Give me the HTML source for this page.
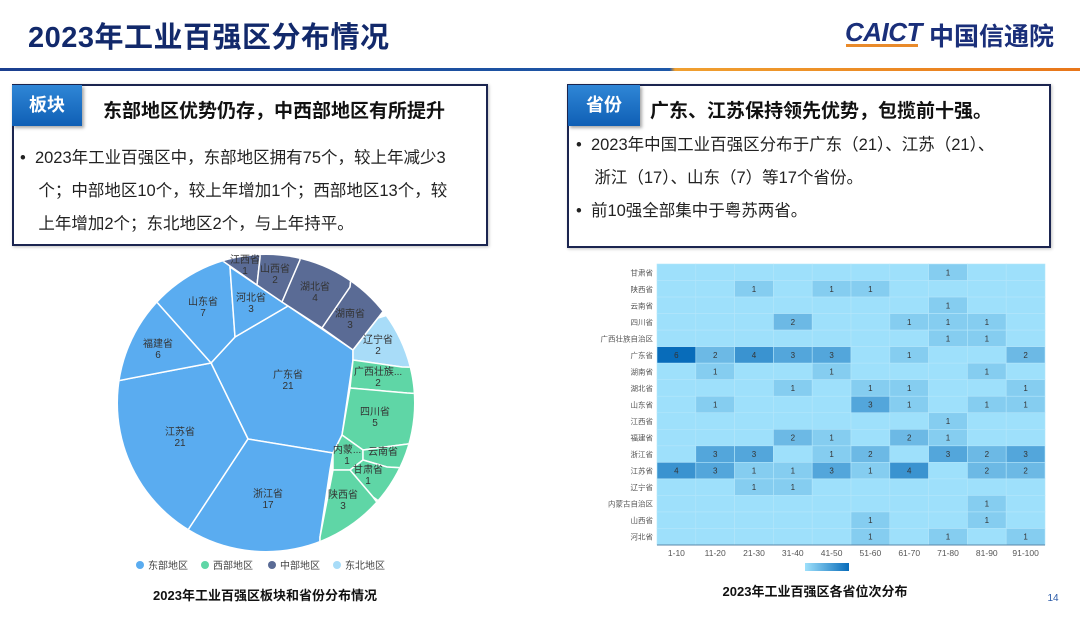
<!DOCTYPE html>
<html><head><meta charset="utf-8">
<style>
body{margin:0;width:1080px;height:622px;background:#fff;position:relative;overflow:hidden;font-family:"Liberation Sans","Noto Sans CJK SC",sans-serif;}
.abs{position:absolute;}
.title{left:28px;top:14px;font-size:29px;font-weight:bold;color:#12296b;letter-spacing:0.5px;}
.box{border:2px solid #1b2550;box-sizing:border-box;box-shadow:1px 1px 3px rgba(0,0,0,.25);}
.tag{background:linear-gradient(#2f86d6,#0f5fb5);color:#fff;font-weight:bold;font-size:18px;text-align:center;line-height:41px;box-shadow:2px 2px 3px rgba(0,0,0,.35);}
.head{font-weight:bold;font-size:19px;color:#111;}
.bul{font-size:16.5px;color:#222;line-height:33px;}
</style></head><body>
<div class="abs title">2023年工业百强区分布情况</div>
<div class="abs" style="left:845px;top:17px;font-size:26px;font-weight:bold;color:#1a2f7a;font-style:italic;letter-spacing:-0.5px">CAICT</div>
<div class="abs" style="left:846px;top:44px;width:72px;height:3px;background:#e98a2a"></div>
<div class="abs" style="left:929px;top:17px;font-size:25px;font-weight:bold;color:#1a2f7a">中国信通院</div>
<div class="abs" style="left:0;top:68px;width:1080px;height:3px;background:linear-gradient(90deg,#1b3f8f 0,#1e58a8 62%,#f0a030 62.5%,#e8761a 100%)"></div>

<div class="abs box" style="left:12px;top:84px;width:476px;height:162px"></div>
<div class="abs tag" style="left:12px;top:85px;width:70px;height:41px">板块</div>
<div class="abs head" style="left:103px;top:96px">东部地区优势仍存，中西部地区有所提升</div>
<div class="abs bul" style="left:20px;top:142px;width:460px">•&nbsp; 2023年工业百强区中，东部地区拥有75个，较上年减少3<br>&nbsp;&nbsp;&nbsp;&nbsp;个；中部地区10个，较上年增加1个；西部地区13个，较<br>&nbsp;&nbsp;&nbsp;&nbsp;上年增加2个；东北地区2个，与上年持平。</div>

<div class="abs box" style="left:567px;top:84px;width:484px;height:164px"></div>
<div class="abs tag" style="left:568px;top:85px;width:72px;height:41px">省份</div>
<div class="abs head" style="left:650px;top:96px">广东、江苏保持领先优势，包揽前十强。</div>
<div class="abs bul" style="left:576px;top:129px;width:470px">•&nbsp; 2023年中国工业百强区分布于广东（21）、江苏（21）、<br>&nbsp;&nbsp;&nbsp;&nbsp;浙江（17）、山东（7）等17个省份。<br>•&nbsp; 前10强全部集中于粤苏两省。</div>

<svg class="abs" style="left:0;top:0" width="1080" height="622">
<defs><clipPath id="cc"><circle cx="266" cy="403" r="148"/></clipPath></defs>
<g id="pie" clip-path="url(#cc)"></g>
<g id="pielab"></g>
<g id="pieleg"></g>
<g id="heat"></g>
<text x="265" y="600" text-anchor="middle" font-size="13" font-weight="bold" fill="#111">2023年工业百强区板块和省份分布情况</text>
<text x="815" y="596" text-anchor="middle" font-size="13" font-weight="bold" fill="#111">2023年工业百强区各省位次分布</text>
<text x="1053" y="601" text-anchor="middle" font-size="10" fill="#2a5aa8">14</text>
</svg>
<script>
// ---- Pie (voronoi treemap) data ----
const pieNames=["广东省","江苏省","浙江省","山东省","福建省","河北省","江西省","山西省","湖北省","湖南省","辽宁省","广西壮族...","四川省","内蒙...","云南省","甘肃省","陕西省"];
const pieValues=[21,21,17,7,6,3,1,2,4,3,2,2,5,1,1,1,3];
const pieRegions=[0,0,0,0,0,0,2,2,2,2,3,1,1,1,1,1,1];
const regionNames=["东部地区","西部地区","中部地区","东北地区"];
const regionColors=["#5aacf0","#5fd6a6","#5a6b95","#a8dcf8"];
// cell layout (geometry only)
const cells=[
[[211,363],[235,337],[288,306],[353,350],[353,360],[342,435],[333,453],[248,439]],
[[211,363],[248,439],[188,530],[90,560],[80,388]],
[[248,439],[333,453],[330,470],[320,537],[320,620],[150,620],[188,530]],
[[211,363],[130,272],[150,215],[228,225],[230,267],[235,337]],
[[211,363],[80,388],[80,250],[130,272]],
[[235,337],[230,267],[288,306]],
[[200,245],[210,200],[262,200],[260,258],[257,285]],
[[257,285],[260,258],[262,200],[305,200],[300,260],[282,302]],
[[282,302],[300,260],[305,200],[360,200],[350,287],[322,328]],
[[322,328],[350,287],[360,200],[430,250],[378,318],[353,350]],
[[353,350],[378,318],[440,300],[440,368],[402,367],[353,360]],
[[353,360],[402,367],[440,368],[440,395],[407,393],[350,388]],
[[350,388],[407,393],[440,395],[440,440],[400,445],[363,450],[342,435]],
[[342,435],[363,450],[363,460],[350,470],[333,470],[333,453]],
[[363,450],[400,445],[440,440],[440,470],[387,467],[363,460]],
[[363,460],[387,467],[440,470],[420,530],[373,497],[350,470]],
[[333,470],[350,470],[373,497],[420,560],[320,560],[320,537]]];
const labelPos=[[288,378],[180,435],[268,497],[203,305],[158,347],[251,301],[245,263],[275,272],[315,290],[350,317],[378,343],[378,375],[375,415],[347,453],[383,455],[368,473],[343,498]];
const NS="http://www.w3.org/2000/svg";
function mk(t,a,p){const e=document.createElementNS(NS,t);for(const k in a)e.setAttribute(k,a[k]);p.appendChild(e);return e;}
const pie=document.getElementById('pie'),pl=document.getElementById('pielab');
pieNames.forEach((n,i)=>{
 const p=mk('polygon',{points:cells[i].map(q=>q.join(',')).join(' '),fill:regionColors[pieRegions[i]],stroke:'#fff','stroke-width':1.5},pie);
 
 
 const [x,y]=labelPos[i];
 const t=mk('text',{x:x,y:y,'text-anchor':'middle','font-size':10,fill:'#333'},pl);t.textContent=n;
 
 
 if(n!=="云南省"){const v=mk('text',{x:x,y:y+11,'text-anchor':'middle','font-size':10,fill:'#333'},pl);v.textContent=pieValues[i];
 
 }
});
const lg=document.getElementById('pieleg');const lx=[140,205,272,337];
regionNames.forEach((r,i)=>{
 const c=mk('circle',{cx:lx[i],cy:565,r:4,fill:regionColors[i]},lg);
 
 
 const t=mk('text',{x:lx[i]+8,y:569,'font-size':10,fill:'#444'},lg);t.textContent=r;
 
 
});
// ---- Heatmap data ----
const hmRows=["甘肃省","陕西省","云南省","四川省","广西壮族自治区","广东省","湖南省","湖北省","山东省","江西省","福建省","浙江省","江苏省","辽宁省","内蒙古自治区","山西省","河北省"];
const hmCols=["1-10","11-20","21-30","31-40","41-50","51-60","61-70","71-80","81-90","91-100"];
const hmVals=[
[0,0,0,0,0,0,0,1,0,0],
[0,0,1,0,1,1,0,0,0,0],
[0,0,0,0,0,0,0,1,0,0],
[0,0,0,2,0,0,1,1,1,0],
[0,0,0,0,0,0,0,1,1,0],
[6,2,4,3,3,0,1,0,0,2],
[0,1,0,0,1,0,0,0,1,0],
[0,0,0,1,0,1,1,0,0,1],
[0,1,0,0,0,3,1,0,1,1],
[0,0,0,0,0,0,0,1,0,0],
[0,0,0,2,1,0,2,1,0,0],
[0,3,3,0,1,2,0,3,2,3],
[4,3,1,1,3,1,4,0,2,2],
[0,0,1,1,0,0,0,0,0,0],
[0,0,0,0,0,0,0,0,1,0],
[0,0,0,0,0,1,0,0,1,0],
[0,0,0,0,0,1,0,1,0,1]];
const X0=657,X1=1045,Y0=264,Y1=545;
const cw=(X1-X0)/hmCols.length,rh=(Y1-Y0)/hmRows.length;
const xS=j=>X0+j*cw,yS=i=>Y0+i*rh;
const vmax=6;
function col(v){const t=v/vmax;const a=[158,224,251],b=[8,108,186];return 'rgb('+a.map((c,k)=>Math.round(c+(b[k]-c)*t)).join(',')+')';}
const hg=document.getElementById('heat');
hmVals.forEach((row,i)=>{
 const lt=mk('text',{x:653,y:yS(i)+rh/2+3,'text-anchor':'end','font-size':7.5,fill:'#555'},hg);lt.textContent=hmRows[i];
 
 
 row.forEach((v,j)=>{
  const r=mk('rect',{x:xS(j),y:yS(i),width:cw,height:rh,fill:col(v),stroke:'#b4e6fb','stroke-width':0.6},hg);
  
  
  if(v>0){const t=mk('text',{x:xS(j)+cw/2,y:yS(i)+rh/2+3,'text-anchor':'middle','font-size':8,fill:'#333'},hg);t.textContent=v;
  
  }
 });
});
mk('line',{x1:X0,x2:X1,y1:Y1,y2:Y1,stroke:'#5a87a8','stroke-width':1},hg);
hmCols.forEach((c,j)=>{const t=mk('text',{x:xS(j)+cw/2,y:556,'text-anchor':'middle','font-size':8.5,fill:'#555'},hg);t.textContent=c;
 
 });
const gd=mk('linearGradient',{id:'vm'},document.querySelector('svg defs'));
mk('stop',{offset:'0','stop-color':col(0)},gd);mk('stop',{offset:'1','stop-color':col(vmax)},gd);
const vm=mk('rect',{x:805,y:563,width:44,height:8,fill:'url(#vm)'},hg);


</script>
</body></html>
